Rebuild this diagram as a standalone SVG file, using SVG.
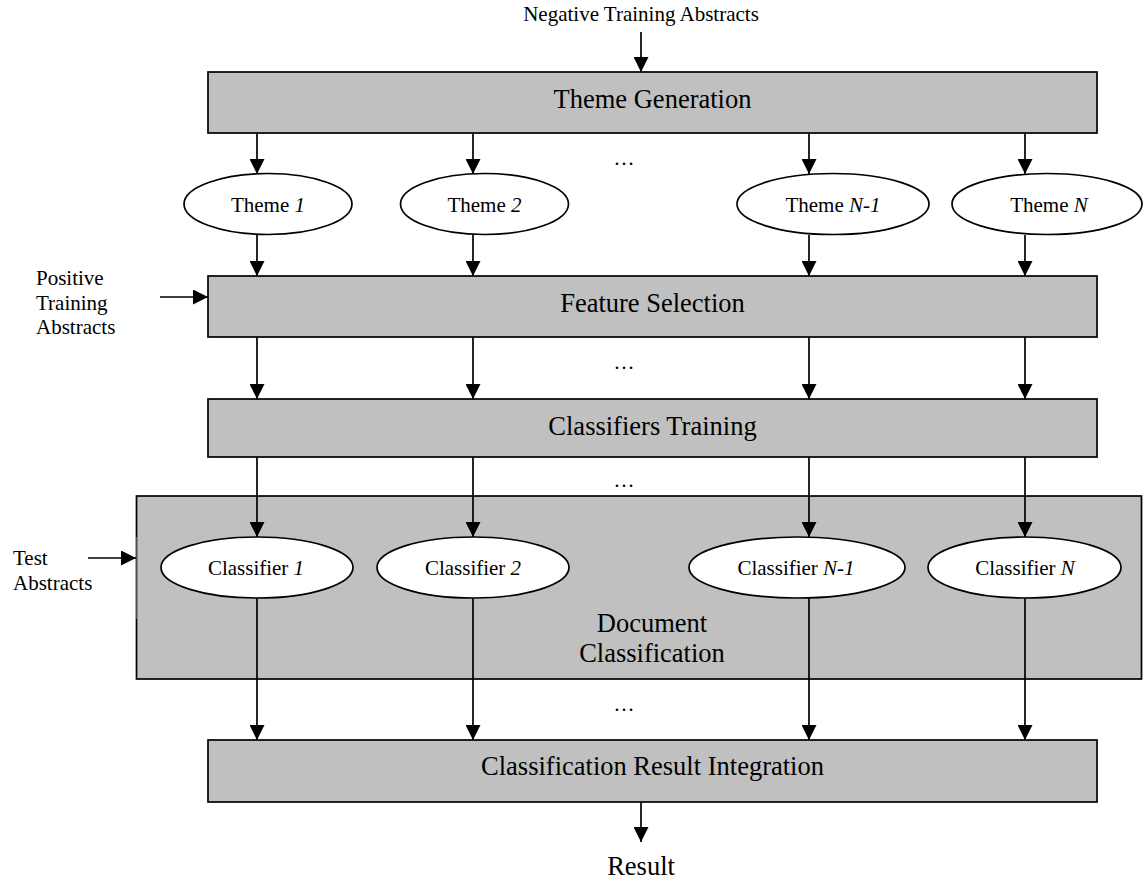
<svg xmlns="http://www.w3.org/2000/svg" width="1143" height="884" viewBox="0 0 1143 884">
<style>
.box{fill:#c0c0c0;stroke:#000;stroke-width:1.7}
.ell{fill:#fff;stroke:#000;stroke-width:1.7}
.t{font-family:"Liberation Serif","Times New Roman",serif;fill:#000}
.big{font-size:26.5px;text-anchor:middle}
.sm{font-size:21px}
.c{text-anchor:middle}
.i{font-style:italic}
.ln{stroke:#000;stroke-width:1.7;fill:none;marker-end:url(#ah)}
</style>
<defs>
<marker id="ah" markerUnits="userSpaceOnUse" markerWidth="15" markerHeight="15" viewBox="0 0 15 15" refX="15" refY="7.5" orient="auto">
<path d="M0,0 L15,7.5 L0,15 z" fill="#000"/>
</marker>
</defs>
<rect width="1143" height="884" fill="#fff"/>

<g id="document-classification">
<rect x="136.5" y="496" width="1005" height="183" fill="#c0c0c0" stroke="#000" stroke-width="1.7"/>
<line x1="136.5" y1="537" x2="136.5" y2="619" stroke="#c0c0c0" stroke-width="1.2"/>
<line x1="136.5" y1="537" x2="136.5" y2="619" stroke="#000" stroke-width="0.6"/>
<text class="t big" x="652" y="632">Document</text>
<text class="t big" x="652" y="662">Classification</text>
</g>

<g id="theme-generation">
<rect class="box" x="208" y="72" width="889" height="61"/>
<text class="t big" x="652.5" y="108">Theme Generation</text>
</g>

<g id="feature-selection">
<rect class="box" x="208" y="276" width="889" height="61"/>
<text class="t big" x="652.5" y="312">Feature Selection</text>
</g>

<g id="classifiers-training">
<rect class="box" x="208" y="399" width="889" height="58"/>
<text class="t big" x="652.5" y="435">Classifiers Training</text>
</g>

<g id="result-integration">
<rect class="box" x="208" y="740" width="889" height="62"/>
<text class="t big" x="652.5" y="775">Classification Result Integration</text>
</g>

<g id="theme-1">
<ellipse class="ell" cx="268" cy="204" rx="84" ry="30.5"/>
<text class="t sm c" x="268" y="212">Theme <tspan class="i">1</tspan></text>
</g>
<g id="theme-2">
<ellipse class="ell" cx="484.5" cy="204" rx="84" ry="30.5"/>
<text class="t sm c" x="484.5" y="212">Theme <tspan class="i">2</tspan></text>
</g>
<g id="theme-n-1">
<ellipse class="ell" cx="833" cy="204" rx="96" ry="30.5"/>
<text class="t sm c" x="833" y="212">Theme <tspan class="i">N-1</tspan></text>
</g>
<g id="theme-n">
<ellipse class="ell" cx="1047" cy="204" rx="95" ry="30.5"/>
<text class="t sm c" x="1049" y="212">Theme <tspan class="i">N</tspan></text>
</g>

<g id="classifier-1">
<ellipse class="ell" cx="257" cy="567.5" rx="96" ry="30.5"/>
<text class="t sm c" x="256" y="575">Classifier <tspan class="i">1</tspan></text>
</g>
<g id="classifier-2">
<ellipse class="ell" cx="473" cy="567.5" rx="96" ry="30.5"/>
<text class="t sm c" x="473" y="575">Classifier <tspan class="i">2</tspan></text>
</g>
<g id="classifier-n-1">
<ellipse class="ell" cx="797" cy="567.5" rx="108" ry="30.5"/>
<text class="t sm c" x="796" y="575">Classifier <tspan class="i">N-1</tspan></text>
</g>
<g id="classifier-n">
<ellipse class="ell" cx="1024.5" cy="567.5" rx="96.5" ry="30.5"/>
<text class="t sm c" x="1025" y="575">Classifier <tspan class="i">N</tspan></text>
</g>

<g id="labels">
<text class="t sm c" x="641" y="21">Negative Training Abstracts</text>
<text class="t sm" x="36" y="285">Positive</text>
<text class="t sm" x="36" y="309.5">Training</text>
<text class="t sm" x="36" y="334">Abstracts</text>
<text class="t sm" x="13" y="565">Test</text>
<text class="t sm" x="13" y="590">Abstracts</text>
<text class="t big" x="641" y="875">Result</text>
<text class="t sm c" x="624" y="165">…</text>
<text class="t sm c" x="624" y="369">…</text>
<text class="t sm c" x="624" y="487">…</text>
<text class="t sm c" x="624" y="711">…</text>
</g>

<g id="connectors">
<line class="ln" x1="641" y1="32" x2="641" y2="72"/>
<line class="ln" x1="160" y1="297" x2="208" y2="297"/>
<line class="ln" x1="88" y1="558" x2="136" y2="558"/>
<line class="ln" x1="641" y1="802" x2="641" y2="842"/>

<line class="ln" x1="257" y1="133" x2="257" y2="174"/>
<line class="ln" x1="473" y1="133" x2="473" y2="174"/>
<line class="ln" x1="809" y1="133" x2="809" y2="174"/>
<line class="ln" x1="1025" y1="133" x2="1025" y2="174"/>

<line class="ln" x1="257" y1="235" x2="257" y2="276"/>
<line class="ln" x1="473" y1="235" x2="473" y2="276"/>
<line class="ln" x1="809" y1="235" x2="809" y2="276"/>
<line class="ln" x1="1025" y1="235" x2="1025" y2="276"/>

<line class="ln" x1="257" y1="337" x2="257" y2="399"/>
<line class="ln" x1="473" y1="337" x2="473" y2="399"/>
<line class="ln" x1="809" y1="337" x2="809" y2="399"/>
<line class="ln" x1="1025" y1="337" x2="1025" y2="399"/>

<line class="ln" x1="257" y1="457" x2="257" y2="537"/>
<line class="ln" x1="473" y1="457" x2="473" y2="537"/>
<line class="ln" x1="809" y1="457" x2="809" y2="537"/>
<line class="ln" x1="1025" y1="457" x2="1025" y2="537"/>

<line class="ln" x1="257" y1="598" x2="257" y2="740"/>
<line class="ln" x1="473" y1="598" x2="473" y2="740"/>
<line class="ln" x1="809" y1="598" x2="809" y2="740"/>
<line class="ln" x1="1025" y1="598" x2="1025" y2="740"/>
</g>
</svg>
